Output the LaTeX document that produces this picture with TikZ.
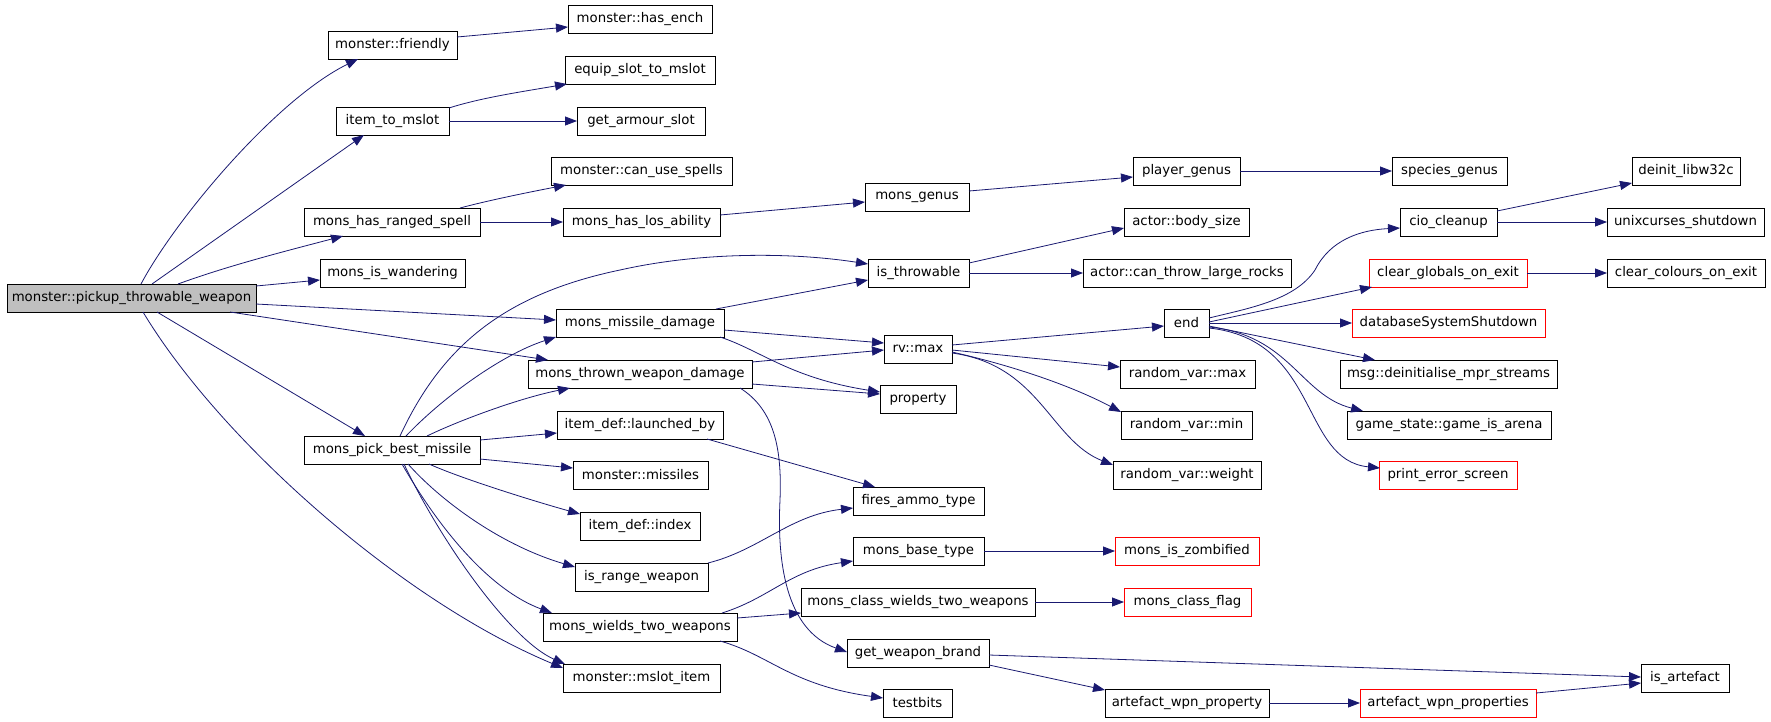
\documentclass[tikz,border=0pt]{standalone}
\usepackage{fontspec}
\setmainfont{DejaVu Sans}
\usetikzlibrary{arrows.meta}
\definecolor{edgeblue}{HTML}{191970}
\definecolor{graybg}{HTML}{BFBFBF}
\definecolor{redline}{HTML}{FF0000}
\tikzset{
  fnbox/.style={draw, line width=0.9pt, inner xsep=0pt, inner ysep=0pt, outer sep=0pt,
    minimum height=28pt, font=\fontsize{13.3}{15}\selectfont, text=black},
  edge/.style={draw=edgeblue, line width=0.8pt, -{Triangle[length=12pt,width=9pt]}}
}
\newcommand\mkbox[6][black]{\node[fnbox, draw=#1, minimum width=#5] (#2) at ({#3+#5/2},{#4+14}) {#6};}
\begin{document}
\begin{tikzpicture}[x=1pt,y=-1pt]
\useasboundingbox (0,0) rectangle (1771,721);
% nodes
\node[fnbox, fill=graybg, minimum width=249] (pickup) at ({7+249/2},298) {monster::pickup\_throwable\_weapon};
\mkbox{friendly}{328}{31}{129}{monster::friendly}
\mkbox{hasench}{568}{5}{144}{monster::has\_ench}
\mkbox{itemtomslot}{336}{107}{113}{item\_to\_mslot}
\mkbox{equipslot}{565}{56}{150}{equip\_slot\_to\_mslot}
\mkbox{getarmour}{577}{107}{128}{get\_armour\_slot}
\mkbox{rangedspell}{304}{208}{176}{mons\_has\_ranged\_spell}
\mkbox{canusespells}{551}{157}{181}{monster::can\_use\_spells}
\mkbox{losability}{563}{208}{157}{mons\_has\_los\_ability}
\mkbox{monsgenus}{865}{183}{104}{mons\_genus}
\mkbox{playergenus}{1133}{157}{107}{player\_genus}
\mkbox{speciesgenus}{1392}{157}{115}{species\_genus}
\mkbox{wandering}{320}{259}{145}{mons\_is\_wandering}
\mkbox{missiledmg}{556}{309}{168}{mons\_missile\_damage}
\mkbox{throwndmg}{528}{360}{224}{mons\_thrown\_weapon\_damage}
\mkbox{pickbest}{304}{436}{176}{mons\_pick\_best\_missile}
\mkbox{launchedby}{557}{411}{166}{item\_def::launched\_by}
\mkbox{missiles}{573}{461}{135}{monster::missiles}
\mkbox{index}{580}{512}{120}{item\_def::index}
\mkbox{rangeweapon}{575}{563}{133}{is\_range\_weapon}
\mkbox{wieldstwo}{543}{613}{194}{mons\_wields\_two\_weapons}
\mkbox{mslotitem}{563}{664}{157}{monster::mslot\_item}
\mkbox{isthrowable}{868}{259}{101}{is\_throwable}
\mkbox{rvmax}{884}{335}{68}{rv::max}
\mkbox{property}{880}{385}{76}{property}
\mkbox{firesammo}{853}{487}{131}{fires\_ammo\_type}
\mkbox{basetype}{853}{537}{131}{mons\_base\_type}
\mkbox{classwields}{801}{588}{234}{mons\_class\_wields\_two\_weapons}
\mkbox{weaponbrand}{847}{639}{142}{get\_weapon\_brand}
\mkbox{testbits}{883}{689}{69}{testbits}
\mkbox{bodysize}{1124}{208}{125}{actor::body\_size}
\mkbox{canthrow}{1083}{259}{208}{actor::can\_throw\_large\_rocks}
\mkbox{endn}{1164}{309}{45}{end}
\mkbox{rvarmax}{1120}{360}{135}{random\_var::max}
\mkbox{rvarmin}{1121}{411}{131}{random\_var::min}
\mkbox{rvarweight}{1113}{461}{148}{random\_var::weight}
\mkbox[redline]{zombified}{1115}{537}{144}{mons\_is\_zombified}
\mkbox[redline]{classflag}{1124}{588}{127}{mons\_class\_flag}
\mkbox{awproperty}{1105}{689}{164}{artefact\_wpn\_property}
\mkbox{ciocleanup}{1400}{208}{97}{cio\_cleanup}
\mkbox[redline]{clearglobals}{1369}{259}{158}{clear\_globals\_on\_exit}
\mkbox[redline]{dbshutdown}{1352}{309}{193}{databaseSystemShutdown}
\mkbox{msgdeinit}{1340}{360}{217}{msg::deinitialise\_mpr\_streams}
\mkbox{gamearena}{1347}{411}{204}{game\_state::game\_is\_arena}
\mkbox[redline]{printerror}{1379}{461}{138}{print\_error\_screen}
\mkbox[redline]{awproperties}{1360}{689}{176}{artefact\_wpn\_properties}
\mkbox{deinit}{1632}{157}{108}{deinit\_libw32c}
\mkbox{unixcurses}{1607}{208}{157}{unixcurses\_shutdown}
\mkbox{clearcolours}{1607}{259}{158}{clear\_colours\_on\_exit}
\mkbox{isartefact}{1641}{664}{88}{is\_artefact}
% edges
\draw[edge] ([shift={(134,0)}]pickup.north west) .. controls (175,220) and (275,100) .. ([shift={(30,28)}]friendly.north west);
\draw[edge] ([shift={(145,0)}]pickup.north west) -- ([shift={(28,28)}]itemtomslot.north west);
\draw[edge] ([shift={(171,0)}]pickup.north west) .. controls (230,265) and (290,250) .. ([shift={(39,28)}]rangedspell.north west);
\draw[edge] ([shift={(249,2)}]pickup.north west) -- ([shift={(0,21)}]wandering.north west);
\draw[edge] ([shift={(249,20)}]pickup.north west) -- ([shift={(0,11)}]missiledmg.north west);
\draw[edge] ([shift={(223,28)}]pickup.north west) -- ([shift={(20,0)}]throwndmg.north west);
\draw[edge] ([shift={(150,28)}]pickup.north west) -- ([shift={(61,0)}]pickbest.north west);
\draw[edge] ([shift={(136,28)}]pickup.north west) .. controls (220,440) and (400,600) .. ([shift={(0,4)}]mslotitem.north west);
\draw[edge] ([shift={(129,6)}]friendly.north west) -- ([shift={(0,22)}]hasench.north west);
\draw[edge] ([shift={(113,1)}]itemtomslot.north west) .. controls (480,98) and (520,92) .. ([shift={(2,28)}]equipslot.north west);
\draw[edge] ([shift={(113,14)}]itemtomslot.north west) -- ([shift={(0,14)}]getarmour.north west);
\draw[edge] ([shift={(156,0)}]rangedspell.north west) .. controls (490,200) and (530,192) .. ([shift={(15,28)}]canusespells.north west);
\draw[edge] ([shift={(176,14)}]rangedspell.north west) -- ([shift={(0,14)}]losability.north west);
\draw[edge] ([shift={(157,7)}]losability.north west) -- ([shift={(0,19)}]monsgenus.north west);
\draw[edge] ([shift={(104,8)}]monsgenus.north west) -- ([shift={(0,20)}]playergenus.north west);
\draw[edge] ([shift={(107,14)}]playergenus.north west) -- ([shift={(0,14)}]speciesgenus.north west);
\draw[edge] ([shift={(96,0)}]pickbest.north west) .. controls (440,350) and (500,295) .. (620,270) .. controls (700,252) and (790,252) .. ([shift={(0,5)}]isthrowable.north west);
\draw[edge] ([shift={(102,0)}]pickbest.north west) .. controls (440,400) and (500,355) .. ([shift={(0,28)}]missiledmg.north west);
\draw[edge] ([shift={(123,0)}]pickbest.north west) .. controls (460,420) and (520,398) .. ([shift={(42,28)}]throwndmg.north west);
\draw[edge] ([shift={(176,4)}]pickbest.north west) -- ([shift={(0,22)}]launchedby.north west);
\draw[edge] ([shift={(176,23)}]pickbest.north west) -- ([shift={(0,7)}]missiles.north west);
\draw[edge] ([shift={(125,28)}]pickbest.north west) .. controls (460,478) and (530,500) .. ([shift={(0,2)}]index.north west);
\draw[edge] ([shift={(104,28)}]pickbest.north west) .. controls (440,500) and (500,545) .. ([shift={(0,4)}]rangeweapon.north west);
\draw[edge] ([shift={(98,28)}]pickbest.north west) .. controls (440,530) and (490,590) .. ([shift={(9,0)}]wieldstwo.north west);
\draw[edge] ([shift={(100,28)}]pickbest.north west) .. controls (440,540) and (510,640) .. ([shift={(2,0)}]mslotitem.north west);
\draw[edge] ([shift={(160,0)}]missiledmg.north west) -- ([shift={(0,21)}]isthrowable.north west);
\draw[edge] ([shift={(168,21)}]missiledmg.north west) -- ([shift={(0,8)}]rvmax.north west);
\draw[edge] ([shift={(164,28)}]missiledmg.north west) .. controls (760,350) and (790,378) .. ([shift={(0,7)}]property.north west);
\draw[edge] ([shift={(224,2)}]throwndmg.north west) -- ([shift={(0,15)}]rvmax.north west);
\draw[edge] ([shift={(224,24)}]throwndmg.north west) -- ([shift={(0,9)}]property.north west);
\draw[edge] ([shift={(212,28)}]throwndmg.north west) .. controls (775,410) and (782,450) .. (780,500) .. controls (777,560) and (785,630) .. ([shift={(0,13)}]weaponbrand.north west);
\draw[edge] ([shift={(150,28)}]launchedby.north west) -- ([shift={(22,0)}]firesammo.north west);
\draw[edge] ([shift={(133,0)}]rangeweapon.north west) .. controls (760,550) and (790,515) .. ([shift={(0,21)}]firesammo.north west);
\draw[edge] ([shift={(179,0)}]wieldstwo.north west) .. controls (770,598) and (790,570) .. ([shift={(0,24)}]basetype.north west);
\draw[edge] ([shift={(194,5)}]wieldstwo.north west) -- ([shift={(0,25)}]classwields.north west);
\draw[edge] ([shift={(177,28)}]wieldstwo.north west) .. controls (770,655) and (790,685) .. ([shift={(0,9)}]testbits.north west);
\draw[edge] ([shift={(101,4)}]isthrowable.north west) -- ([shift={(0,20)}]bodysize.north west);
\draw[edge] ([shift={(101,14)}]isthrowable.north west) -- ([shift={(0,14)}]canthrow.north west);
\draw[edge] ([shift={(68,10)}]rvmax.north west) -- ([shift={(0,17)}]endn.north west);
\draw[edge] ([shift={(68,15)}]rvmax.north west) -- ([shift={(0,7)}]rvarmax.north west);
\draw[edge] ([shift={(68,17)}]rvmax.north west) .. controls (1010,365) and (1070,385) .. ([shift={(0,1)}]rvarmin.north west);
\draw[edge] ([shift={(68,18)}]rvmax.north west) .. controls (1040,365) and (1050,440) .. ([shift={(0,4)}]rvarweight.north west);
\draw[edge] ([shift={(45,9)}]endn.north west) .. controls (1250,308) and (1295,300) .. (1315,270) .. controls (1330,240) and (1360,230) .. ([shift={(0,20)}]ciocleanup.north west);
\draw[edge] ([shift={(45,13)}]endn.north west) -- ([shift={(3,28)}]clearglobals.north west);
\draw[edge] ([shift={(45,14)}]endn.north west) -- ([shift={(0,14)}]dbshutdown.north west);
\draw[edge] ([shift={(45,17)}]endn.north west) -- ([shift={(35,0)}]msgdeinit.north west);
\draw[edge] ([shift={(45,18)}]endn.north west) .. controls (1290,335) and (1300,395) .. ([shift={(16,0)}]gamearena.north west);
\draw[edge] ([shift={(45,19)}]endn.north west) .. controls (1320,340) and (1300,460) .. ([shift={(1,7)}]printerror.north west);
\draw[edge] ([shift={(97,3)}]ciocleanup.north west) -- ([shift={(0,26)}]deinit.north west);
\draw[edge] ([shift={(97,14)}]ciocleanup.north west) -- ([shift={(0,14)}]unixcurses.north west);
\draw[edge] ([shift={(158,14)}]clearglobals.north west) -- ([shift={(0,14)}]clearcolours.north west);
\draw[edge] ([shift={(131,14)}]basetype.north west) -- ([shift={(0,14)}]zombified.north west);
\draw[edge] ([shift={(234,14)}]classwields.north west) -- ([shift={(0,14)}]classflag.north west);
\draw[edge] ([shift={(142,16)}]weaponbrand.north west) -- ([shift={(0,13)}]isartefact.north west);
\draw[edge] ([shift={(142,26)}]weaponbrand.north west) -- ([shift={(0,1)}]awproperty.north west);
\draw[edge] ([shift={(164,14)}]awproperty.north west) -- ([shift={(0,14)}]awproperties.north west);
\draw[edge] ([shift={(176,4)}]awproperties.north west) -- ([shift={(0,19)}]isartefact.north west);
\end{tikzpicture}
\end{document}
